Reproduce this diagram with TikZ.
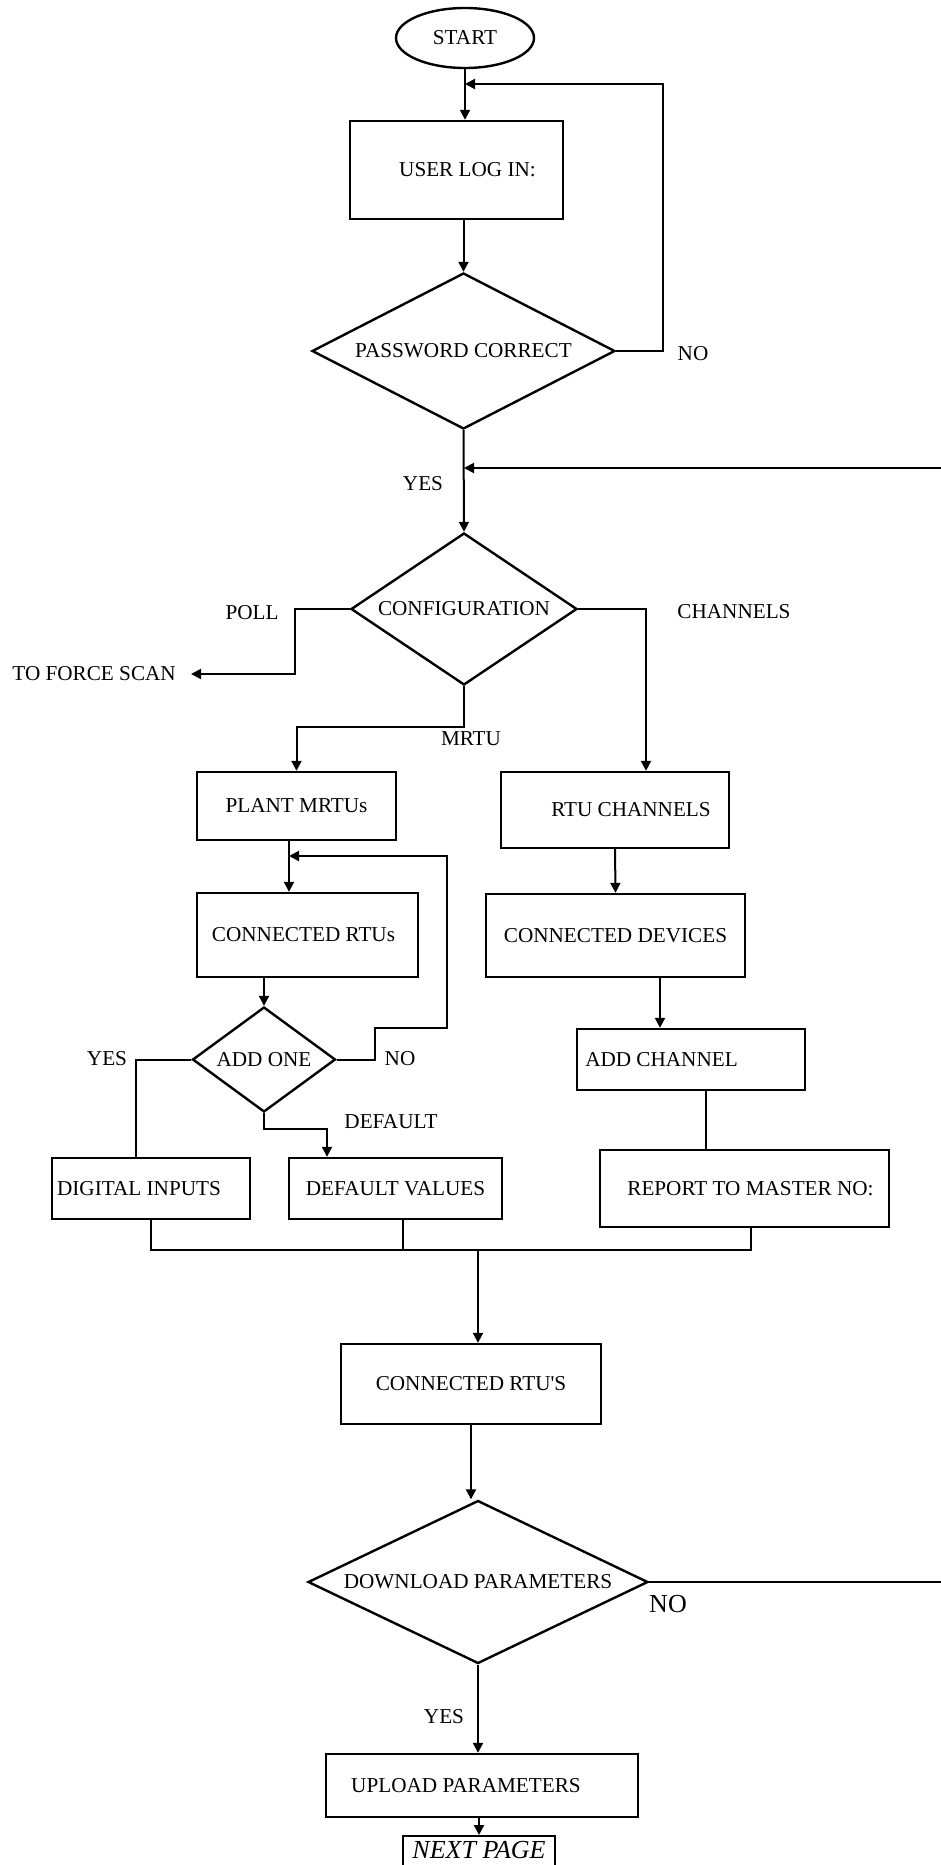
\documentclass[tikz,border=0pt]{standalone}
\usepackage{fontspec}
\setmainfont{Liberation Serif}
\usetikzlibrary{shapes.geometric, arrows.meta, positioning}

\newcommand{\chartfont}{\fontsize{21.2}{25}\selectfont}
\newcommand{\bigchartfont}{\fontsize{26}{30}\selectfont}

\begin{document}
\begin{tikzpicture}[
    x=1pt, y=-1pt,
    every node/.style={font=\chartfont},
    terminal/.style={ellipse, draw, line width=2.4pt, minimum width=138pt, minimum height=60pt, inner sep=0pt},
    block/.style={rectangle, draw, line width=2.4pt, inner sep=4pt},
    decision/.style={diamond, draw, line width=2.4pt, inner sep=0pt},
    arrow/.style={-{Triangle[length=10pt, width=10pt]}, line width=2pt},
    wire/.style={line width=2pt},
    lbl/.style={inner sep=0pt}
]
\path[use as bounding box, fill=white] (0,0) rectangle (941,1865);
\clip (0,0) rectangle (941,1865);

% log in and configuration
\node[terminal] (start) at (465,38) {START};
\node[block, minimum width=213pt, minimum height=98pt] (login) at (456.5,170) {\hspace*{22pt}USER LOG IN:};
\node[decision, minimum width=303pt, minimum height=156pt, aspect=1.94] (pass) at (463.5,351) {PASSWORD CORRECT};
\node[decision, minimum width=226pt, minimum height=152pt, aspect=1.5] (config) at (464,609) {CONFIGURATION};

% MRTU branch
\node[block, minimum width=199pt, minimum height=68pt] (plant) at (296.5,806) {PLANT MRTUs};
\node[block, minimum width=221pt, minimum height=84pt] (rtus) at (307.5,935) {CONNECTED RTUs\hspace*{8pt}};
\node[decision, minimum width=143pt, minimum height=105pt, aspect=1.36] (addone) at (264,1059.5) {ADD ONE};
\node[block, minimum width=198pt, minimum height=61pt] (digital) at (151,1188.5) {DIGITAL INPUTS\hspace*{24pt}};
\node[block, minimum width=213pt, minimum height=61pt] (defaults) at (395.5,1188.5) {DEFAULT VALUES};

% channel branch
\node[block, minimum width=228pt, minimum height=76pt] (rtuchan) at (615,810) {\hspace*{32pt}RTU CHANNELS};
\node[block, minimum width=259pt, minimum height=83pt] (devices) at (615.5,935.5) {CONNECTED DEVICES};
\node[block, minimum width=228pt, minimum height=61pt] (addchan) at (691,1059.5) {ADD CHANNEL\hspace*{59pt}};
\node[block, minimum width=289pt, minimum height=77pt] (report) at (744.5,1188.5) {\hspace*{12pt}REPORT TO MASTER NO:};

% download / upload
\node[block, minimum width=260pt, minimum height=80pt] (connrtus) at (471,1384) {CONNECTED RTU\textquotesingle S};
\node[decision, minimum width=340pt, minimum height=163pt, aspect=2.09] (download) at (478,1582) {DOWNLOAD PARAMETERS};
\node[block, minimum width=312pt, minimum height=63pt] (upload) at (482,1785.5) {UPLOAD PARAMETERS\hspace*{32pt}};
\node[block, anchor=north, minimum width=152pt, inner ysep=0pt, text height=22pt, text depth=40pt, font=\bigchartfont\itshape] (nextpage) at (479,1835) {NEXT PAGE};

% branch labels
\node[lbl] (nopass) at (693,354) {NO};
\node[lbl] (yespass) at (423,484) {YES};
\node[lbl] (poll) at (252,613) {POLL};
\node[lbl] (chanlbl) at (734,612) {CHANNELS};
\node[lbl, anchor=east] (forcescan) at (176,674) {TO FORCE SCAN};
\node[lbl] (mrtu) at (471,739) {MRTU};
\node[lbl] (noadd) at (400,1059) {NO};
\node[lbl] (yesadd) at (107,1059) {YES};
\node[lbl] (deflbl) at (391,1122) {DEFAULT};
\node[lbl, font=\bigchartfont] (nodl) at (668,1604) {NO};
\node[lbl] (yesdl) at (444,1717) {YES};

% joints
\coordinate (relog) at (465,84);
\coordinate (reconf) at (464,468);
\coordinate (readd) at (289,856);
\coordinate (merge) at (478,1250);
\coordinate (devout) at ([xshift=44.5pt]devices.south);
\coordinate (chanout) at ([xshift=15pt]addchan.south);

\draw[arrow] (start.south) -- (start.south |- login.north);
\draw[arrow] (pass.east) -- ++(47,0) |- (relog);
\draw[arrow] (login.south -| pass.north) -- (pass.north);
\draw[arrow] (pass.south) -- (config.north);
\draw[arrow] (download.east) -- ++(330,0) |- (reconf);

\draw[arrow] (config.west) -- ++(-55,0) |- ([xshift=15pt]forcescan.east);
\draw[arrow] (config.south) -- ++(0,41) -| (plant.north);
\draw[arrow] (config.east) -| ([xshift=31pt]rtuchan.north);

\draw[wire] ([xshift=-7.5pt]plant.south) -- (readd);
\draw[arrow] (readd) -- (readd |- rtus.north);
\draw[arrow] (rtus.south -| addone.north) -- (addone.north);
\draw[arrow] (addone.east) -- ++(38,0) |- (447,1028) |- (readd);
\draw[wire] (addone.west) -| ([xshift=-15pt]digital.north);
\draw[arrow] (addone.south) -- ++(0,16) -| ([xshift=-68.5pt]defaults.north);

\draw[arrow] (rtuchan.south) -- (devices.north);
\draw[arrow] (devout) -- (devout |- addchan.north);
\draw[wire] (chanout) -- (chanout |- report.north);

\draw[wire] (digital.south) |- (merge);
\draw[wire] ([xshift=7.5pt]defaults.south) |- (merge);
\draw[wire] ([xshift=6.5pt]report.south) |- (merge);
\draw[arrow] (merge) -- (merge |- connrtus.north);

\draw[arrow] (connrtus.south) -- (connrtus.south |- download.north);
\draw[arrow] (download.south) -- (download.south |- upload.north);
\draw[arrow] (upload.south -| nextpage.north) -- (nextpage.north);
\end{tikzpicture}
\end{document}
